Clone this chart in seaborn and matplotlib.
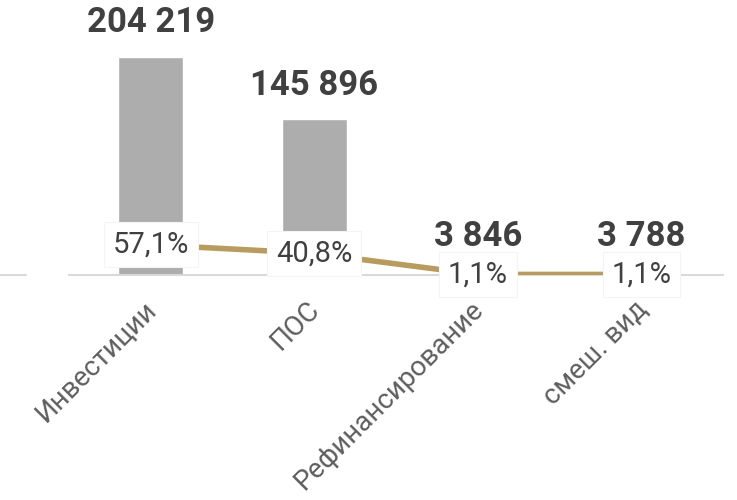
import matplotlib
matplotlib.use("Agg")
import matplotlib.pyplot as plt
import seaborn as sns
import pandas as pd
from matplotlib.lines import Line2D
from matplotlib.transforms import ScaledTranslation

categories = ["Инвестиции", "ПОС", "Рефинансирование", "смеш. вид"]
amounts = [204219, 145896, 3846, 3788]
amount_labels = ["204 219", "145 896", "3 846", "3 788"]
shares = [57.1, 40.8, 1.1, 1.1]
share_labels = ["57,1%", "40,8%", "1,1%", "1,1%"]

sns.set_theme(style="white")
plt.rcParams['font.family'] = ['Roboto', 'DejaVu Sans']

W, H = 737, 500
fig = plt.figure(figsize=(W / 100, H / 100), dpi=100)
left_px, right_px, base_px, top_px = 69, 723, 275, 10
ax = fig.add_axes([left_px / W, 1 - base_px / H, (right_px - left_px) / W, (base_px - top_px) / H])

df = pd.DataFrame({"cat": categories, "amount": amounts, "share": shares})

sns.barplot(data=df, x="cat", y="amount", color="#ADADAD", saturation=1, width=0.4, ax=ax, zorder=2)
ax.set_xlim(-0.5, 3.5)
ax.set_ylim(0, max(amounts) * (base_px - top_px) / 218)

for i, (v, lab) in enumerate(zip(amounts, amount_labels)):
    ax.annotate(lab, (i, v), xytext=(0, 24.5), textcoords="offset points",
                ha="center", va="center", fontsize=25, fontweight="bold", color="#404040")

ax2 = ax.twinx()
sns.lineplot(data=df, x="cat", y="share", sort=False, color="#B89B5E", linewidth=4, ax=ax2, zorder=2)
ax2.set_ylim(0, (base_px - top_px) / 0.53)
ax2.set_xlim(-0.5, 3.5)
for i, (v, lab) in enumerate(zip(shares, share_labels)):
    ax2.text(i, v, lab, ha="center", va="center", fontsize=21, color="#404040", zorder=5,
             bbox=dict(boxstyle="square,pad=0.3", facecolor="white", edgecolor="#F4F4F4", linewidth=0.8))

for a in (ax, ax2):
    for s in ["top", "right", "left"]:
        a.spines[s].set_visible(False)
    a.set_yticks([])
    a.set_ylabel("")
    a.set_xlabel("")
ax2.spines["bottom"].set_visible(False)
ax.spines["bottom"].set_color("#D9D9D9")
ax.spines["bottom"].set_linewidth(1.5)
ax.set_xticks(range(len(categories)))
ax.set_xticklabels(categories, rotation=45, ha="right", rotation_mode="anchor",
                   fontsize=20, color="#5E5E5E")
ax.tick_params(axis="x", length=0, pad=15)
ax2.tick_params(axis="x", length=0, labelbottom=False)
shift = ScaledTranslation(-8 / 100, 0, fig.dpi_scale_trans)
for lbl in ax.get_xticklabels():
    lbl.set_transform(lbl.get_transform() + shift)

fig.add_artist(Line2D([0, 26 / W], [1 - base_px / H, 1 - base_px / H], color="#D9D9D9", linewidth=1.5))

fig.savefig("out.png", dpi=100, facecolor="white")
